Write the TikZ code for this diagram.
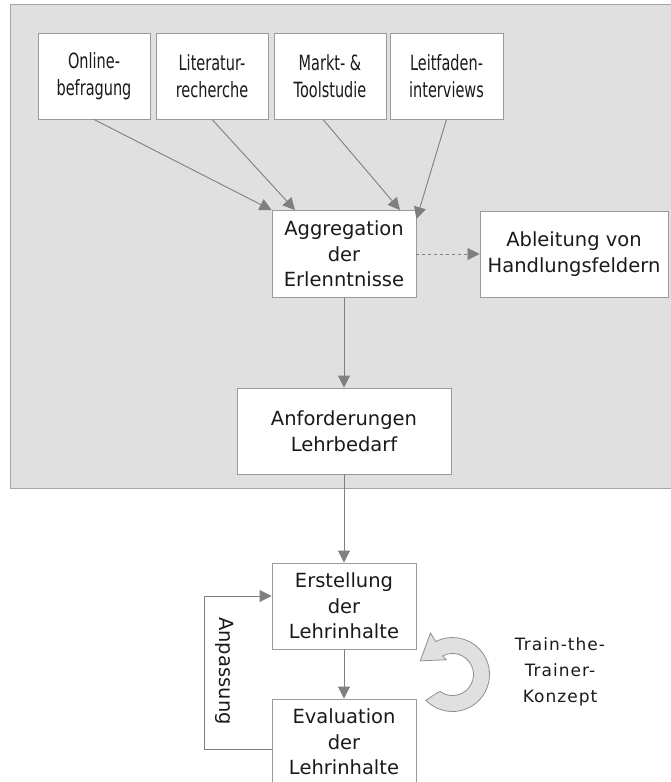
\documentclass[tikz,border=0pt]{standalone}
\usepackage{fontspec}
\setmainfont{DejaVu Sans}
\newfontfamily\narrowfont[FakeStretch=0.69]{DejaVu Sans}
\newfontfamily\spacedfont[LetterSpace=6]{DejaVu Sans}
\usetikzlibrary{arrows.meta,calc}
\definecolor{bggray}{HTML}{E0E0E0}
\definecolor{bgline}{HTML}{A6A6A6}
\definecolor{boxline}{HTML}{9A9A9A}
\definecolor{arrowgray}{HTML}{7F7F7F}
\definecolor{txt}{HTML}{1A1A1A}
\definecolor{ringline}{HTML}{909090}
\begin{document}
\begin{tikzpicture}[x=1pt,y=-1pt,
  every node/.style={text=txt},
  box/.style={draw=boxline, fill=white, line width=0.9pt, align=center, inner sep=0pt,
    font=\fontsize{19.5}{25.5}\selectfont},
  topbox/.style={box, minimum width=112pt, minimum height=86pt, font=\narrowfont\fontsize{21}{27}\selectfont},
  conn/.style={draw=arrowgray, line width=0.9pt, -{Triangle[length=12pt,width=12pt]}, arrowgray}
]
\useasboundingbox (0,0) rectangle (670,782);
\draw[fill=bggray, draw=bgline, line width=1pt] (10,4) rectangle (675,488);

\node[topbox] (b1) at (94,76) {Online-\\befragung};
\node[topbox] (b2) at (212,76) {Literatur-\\recherche};
\node[topbox] (b3) at (330,76) {Markt- \&\\Toolstudie};
\node[topbox, minimum width=113pt] (b4) at (446.5,76) {Leitfaden-\\interviews};

\node[box, minimum width=144pt, minimum height=87pt] (agg) at (344,254) {Aggregation\\der\\Erlenntnisse};
\node[box, minimum width=188pt, minimum height=86pt] (abl) at (574,254) {Ableitung von\\Handlungsfeldern};
\node[box, minimum width=214pt, minimum height=86pt] (anf) at (344,431) {Anforderungen\\Lehrbedarf};
\node[box, minimum width=144pt, minimum height=86pt] (ers) at (344,606) {Erstellung\\der\\Lehrinhalte};
\node[box, minimum width=144pt, minimum height=86pt] (eva) at (344,742) {Evaluation\\der\\Lehrinhalte};

\draw[conn] (b1.south) -- (agg.north west);
\draw[conn] (b2.south) -- ([xshift=-49pt]agg.north);
\draw[conn] ([xshift=-7pt]b3.south) -- ([xshift=56pt]agg.north);
\draw[conn] (b4.south) -- ([yshift=-9pt]agg.north east);

\draw[conn, dashed, line width=0.7pt] (agg.east) -- (abl.west);
\draw[conn] (agg.south) -- (anf.north);
\draw[conn] (anf.south) -- (ers.north);
\draw[conn] (ers.south) -- (eva.north);

\coordinate (lc) at (204,749);
\draw[conn] ([yshift=-7pt]eva.west) -- (lc) |- ([yshift=10pt]ers.west);
\node[rotate=-90, font=\fontsize{19.5}{25}\selectfont] (anp) at (225,671) {Anpassung};

\node[align=center, font=\spacedfont\fontsize{17}{26}\selectfont] (ttt) at (560,672) {Train-the-\\Trainer-\\Konzept};

\begin{scope}[shift={(452.5,674.5)}, x=1pt, y=1pt]
\filldraw[fill=bggray, draw=ringline, line width=0.8pt]
  (224:37) arc[start angle=224, end angle=477, radius=37]
  -- (118:47) -- (157:35) -- (113:16) -- (118:21)
  arc[start angle=478, end angle=234, radius=21]
  -- (230:24) -- cycle;
\end{scope}
\end{tikzpicture}
\end{document}
